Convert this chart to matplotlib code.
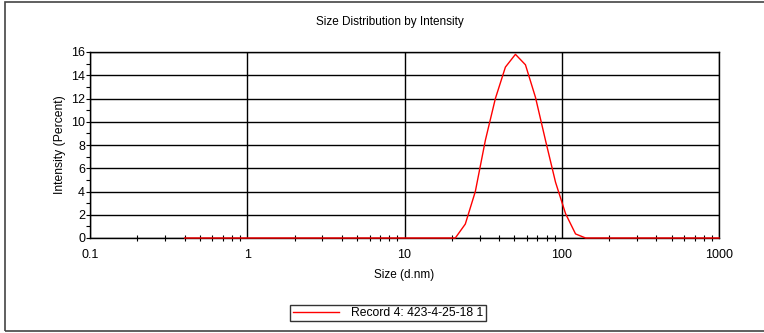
import matplotlib
matplotlib.use("Agg")
import matplotlib.pyplot as plt
from matplotlib.patches import Rectangle
from matplotlib.ticker import FixedLocator, NullFormatter, LogLocator

plt.rcParams['font.family'] = ['Liberation Sans', 'DejaVu Sans']

# Size bins (d.nm) and intensity (%) for the measured record
sizes = [0.4, 21.04, 24.36, 28.21, 32.67, 37.84, 43.82, 50.75, 58.77,
         68.06, 78.82, 91.28, 105.7, 122.4, 141.8, 1000]
intensity = [0, 0, 1.2, 4.0, 8.4, 12.0, 14.7, 15.8, 14.9,
             12.1, 8.4, 4.8, 2.1, 0.35, 0, 0]
series_label = "Record 4: 423-4-25-18 1"
x_ticks = [0.1, 1, 10, 100, 1000]
x_ticklabels = ["0.1", "1", "10", "100", "1000"]
y_ticks = [0, 2, 4, 6, 8, 10, 12, 14, 16]

W, H = 764, 333
fig = plt.figure(figsize=(W / 100, H / 100), dpi=100)

# outer frame
fig.patches.append(Rectangle((5 / W, 2 / H), 770 / W, 329 / H,
                             transform=fig.transFigure, fill=False,
                             edgecolor='#444444', linewidth=1.2))

ax = fig.add_axes([90 / W, (H - 238) / H, 629 / W, 186 / H])
ax.plot(sizes, intensity, color='red', linewidth=1.0, label=series_label,
        zorder=4, clip_on=False)

ax.set_xscale('log')
ax.set_xlim(0.1, 1000)
ax.set_ylim(0, 16)

ax.xaxis.set_major_locator(FixedLocator(x_ticks))
ax.set_xticklabels(x_ticklabels)
ax.xaxis.set_minor_locator(LogLocator(base=10, subs=range(2, 10)))
ax.xaxis.set_minor_formatter(NullFormatter())
ax.yaxis.set_major_locator(FixedLocator(y_ticks))
ax.yaxis.set_minor_locator(FixedLocator([1, 3, 5, 7, 9, 11, 13, 15]))

ax.grid(True, which='major', color='black', linewidth=1.0)
ax.set_axisbelow(True)

ax.tick_params(axis='x', which='major', length=0, pad=8, labelsize=9)
ax.tick_params(axis='x', which='minor', direction='inout', length=4, width=0.8)
ax.tick_params(axis='y', which='major', direction='out', length=3, width=0.8,
               pad=0.5, labelsize=9)
ax.tick_params(axis='y', which='minor', direction='out', length=3, width=0.8)

for s in ax.spines.values():
    s.set_linewidth(1.0)
    s.set_color('black')

ax.set_xlabel("Size (d.nm)", fontsize=8.5, labelpad=6)
ax.set_ylabel("Intensity (Percent)", fontsize=8.7, labelpad=4)
fig.text(390 / W, (H - 22.5) / H, "Size Distribution by Intensity",
         ha='center', va='center', fontsize=8.5)

leg = fig.legend(loc='center', bbox_to_anchor=(388 / W, (H - 313) / H),
                 fontsize=8.7, handlelength=3.8, handletextpad=1.0,
                 borderpad=0.2, borderaxespad=0, frameon=True, fancybox=False)
leg.get_frame().set_edgecolor('black')
leg.get_frame().set_linewidth(1.0)

fig.savefig("out.png", dpi=100)
